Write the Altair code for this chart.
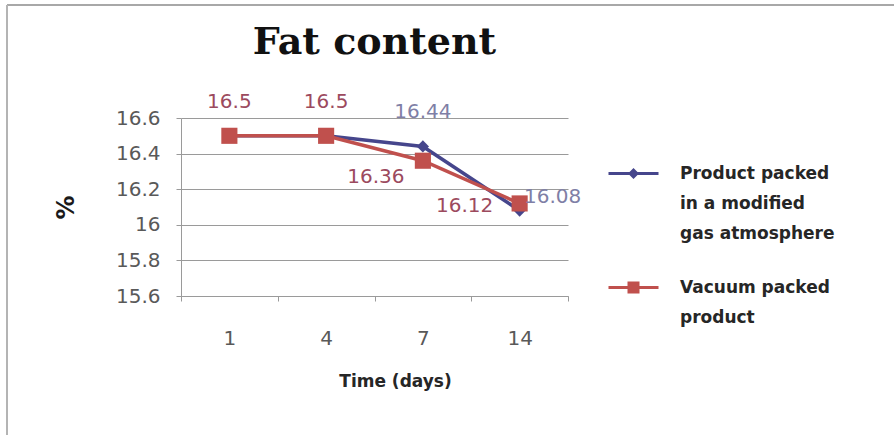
import altair as alt
import pandas as pd

# Fat content (%) over storage time for two packaging methods
days = ["1", "4", "7", "14"]
gas_name = "Product packed\nin a modified\ngas atmosphere"
vacuum_name = "Vacuum packed\nproduct"
series_names = [gas_name, vacuum_name]
gas_values = [16.5, 16.5, 16.44, 16.08]
vacuum_values = [16.5, 16.5, 16.36, 16.12]
y_ticks = [15.6, 15.8, 16.0, 16.2, 16.4, 16.6]

BLUE = "#46468c"
RED = "#c0504d"
BLUE_TXT = "#7f7fa6"
RED_TXT = "#9c4a5e"
GRID = "#9a9a9a"
TEXT = "#595959"
SANS = "DejaVu Sans"

df = pd.DataFrame({
    "day": days * 2,
    "step": list(range(len(days))) * 2,
    "series": [gas_name] * len(days) + [vacuum_name] * len(days),
    "value": gas_values + vacuum_values,
})
df["label"] = df["value"].map(lambda v: f"{v:g}")

x_enc = alt.X(
    "day:N", sort=days, bandPosition=0.5,
    scale=alt.Scale(type="band", paddingInner=0, paddingOuter=0),
    axis=alt.Axis(
        title="Time (days)", labelAngle=0, grid=False, tickBand="extent",
        domainColor=GRID, tickColor=GRID, tickSize=5,
        labelFont=SANS, labelFontSize=20, labelColor=TEXT, labelPadding=27,
        titleFont=SANS, titleFontSize=17, titleFontWeight="bold",
        titleColor="#262626", titlePadding=25, titleX=214,
    ),
)
y_enc = alt.Y(
    "value:Q",
    scale=alt.Scale(domain=[15.6, 16.6], nice=False, zero=False),
    axis=alt.Axis(
        values=y_ticks, format=".3~g", title="%",
        grid=True, gridColor=GRID, domainColor=GRID, tickColor=GRID, tickSize=5,
        labelFont=SANS, labelFontSize=20, labelColor=TEXT, labelPadding=16,
        titleFont=SANS, titleFontSize=24, titleFontWeight="bold",
        titleColor="#1a1a1a", titlePadding=37,
    ),
)
color_scale = alt.Scale(domain=series_names, range=[BLUE, RED])

base = alt.Chart(df)

lines = base.mark_line(strokeWidth=3.5).encode(
    x=x_enc, y=y_enc,
    color=alt.Color("series:N", scale=color_scale, legend=None),
    order=alt.Order("step:Q"),
)

points = base.mark_point(filled=True, opacity=1).encode(
    x=x_enc, y=y_enc,
    color=alt.Color("series:N", scale=color_scale, legend=None),
    shape=alt.Shape("series:N", scale=alt.Scale(domain=series_names, range=["diamond", "square"]), legend=None),
    size=alt.Size("series:N", scale=alt.Scale(domain=series_names, range=[150, 260]), legend=None),
)

is_vac = alt.datum.series == vacuum_name
is_gas = alt.datum.series == gas_name
label_color = alt.condition(is_vac, alt.value(RED_TXT), alt.value(BLUE_TXT))


def labels(cond, dx, dy, align="center"):
    return base.transform_filter(cond).mark_text(
        font=SANS, fontSize=20, dx=dx, dy=dy, align=align, baseline="middle"
    ).encode(x=x_enc, y=y_enc, text="label:N", color=label_color)


above = labels(
    (is_vac & ((alt.datum.day == "1") | (alt.datum.day == "4")))
    | (is_gas & (alt.datum.day == "7")),
    0, -34,
)
vac7 = labels(is_vac & (alt.datum.day == "7"), -47, 16)
gas14 = labels(is_gas & (alt.datum.day == "14"), 33, -14)
vac14 = labels(is_vac & (alt.datum.day == "14"), -55, 3)

# legend symbols: short line with the series marker in the middle
gas_symbol = "M-5,-0.3H5V0.3H-5Z M0,-1.1L1.1,0L0,1.1L-1.1,0Z"
vac_symbol = "M-5,-0.3H5V0.3H-5Z M-1.2,-1.2H1.2V1.2H-1.2Z"

legend_layer = base.transform_filter("false").mark_point(filled=True, opacity=1, size=100).encode(
    x=x_enc, y=y_enc,
    color=alt.Color("series:N", scale=color_scale, legend=alt.Legend(title=None)),
    shape=alt.Shape(
        "series:N",
        scale=alt.Scale(domain=series_names, range=[gas_symbol, vac_symbol]),
        legend=alt.Legend(
            title=None, orient="none", legendX=444, legendY=47,
            labelExpr="split(datum.label, '\\n')",
            labelFont=SANS, labelFontSize=17, labelFontWeight="bold",
            labelColor="#262626", labelOffset=38, labelLimit=300,
            rowPadding=36, padding=0, symbolStrokeWidth=0,
        ),
    ),
)

# chart-area border along the top and left edges
frame_src = alt.Chart(pd.DataFrame({"edge": [0]}))
frame_top = frame_src.mark_rule(color="#a8a8a8", strokeWidth=2).encode(
    x=alt.value(-174), x2=alt.value(713), y=alt.value(-113)
)
frame_left = frame_src.mark_rule(color="#b4b4b4", strokeWidth=2).encode(
    x=alt.value(-174), y=alt.value(-113), y2=alt.value(317)
)

chart = alt.layer(
    frame_top, frame_left, lines, points, above, vac7, gas14, vac14, legend_layer
).resolve_scale(
    color="independent", shape="independent", size="independent"
).properties(
    width=387,
    height=178,
    autosize=alt.AutoSizeParams(type="none"),
    padding={"left": 181, "top": 118, "right": 326, "bottom": 139},
    title=alt.TitleParams(
        "Fat content", font="DejaVu Serif", fontSize=38, fontWeight="bold",
        color="#111111", anchor="middle", frame="group", offset=0, dy=58,
    ),
).configure(
    background="white",
    style={"guide-label": {"lineHeight": 30}},
).configure_view(stroke=None)

chart.save("out.html", embed_options={"renderer": "svg", "actions": False})
